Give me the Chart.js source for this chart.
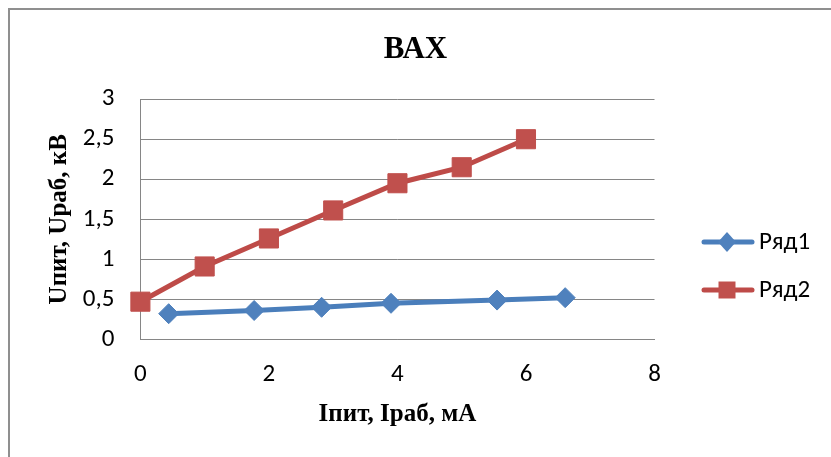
<!DOCTYPE html>
<html>
<head>
<meta charset="utf-8">
<script src="https://cdn.jsdelivr.net/npm/chart.js@4.4.0/dist/chart.umd.min.js"></script>
<style>
  body { margin: 0; background: #fff; }
  #wrap { width: 831px; height: 457px; }
</style>
</head>
<body>
<div id="wrap"><canvas id="chart" width="831" height="457"></canvas></div>
<script>
// values
const chartTitle = 'ВАХ';
const xTitle = 'Iпит, Iраб, мА';
const yTitle = 'Uпит, Uраб, кВ';
const seriesNames = ['Ряд1', 'Ряд2'];

const ryad1X = [0.44, 1.77, 2.82, 3.9, 5.55, 6.61];
const ryad1Y = [0.32, 0.36, 0.40, 0.45, 0.49, 0.52];

const ryad2X = [0, 1, 2, 3, 4, 5, 6];
const ryad2Y = [0.47, 0.91, 1.26, 1.61, 1.95, 2.15, 2.5];

const xTicks = [0, 2, 4, 6, 8];
const yTicks = [0, 0.5, 1, 1.5, 2, 2.5, 3];

const blue = '#4A7EBB';
const red = '#BE4B48';
const gridGray = '#868686';
const tickFont = { family: "Carlito, 'Liberation Sans', sans-serif", size: 25 };
const serifBold = { family: "'Liberation Serif', 'Times New Roman', serif", weight: 'bold' };

function toPoints(xs, ys) {
  return xs.map((x, i) => ({ x: x, y: ys[i] }));
}

// outer frame like the office chart box
const framePlugin = {
  id: 'frame',
  beforeDraw(chart) {
    const ctx = chart.ctx;
    ctx.save();
    ctx.fillStyle = '#fff';
    ctx.fillRect(0, 0, chart.width, chart.height);
    ctx.strokeStyle = '#8f8f8f';
    ctx.lineWidth = 2;
    ctx.strokeRect(9, 9, 900, 600);
    ctx.restore();
  }
};

// legend on the right: line with marker, then the name
const sideLegend = {
  id: 'sideLegend',
  afterDraw(chart) {
    const ctx = chart.ctx;
    const rows = [242, 290];
    chart.data.datasets.forEach((ds, i) => {
      const y = rows[i];
      ctx.save();
      ctx.strokeStyle = ds.borderColor;
      ctx.lineWidth = ds.borderWidth;
      ctx.lineCap = 'round';
      ctx.beginPath();
      ctx.moveTo(704, y);
      ctx.lineTo(752, y);
      ctx.stroke();
      ctx.fillStyle = ds.pointBackgroundColor;
      ctx.beginPath();
      if (ds.pointStyle === 'rect') {
        ctx.rect(727 - 8.5, y - 8.5, 17, 17);
      } else {
        ctx.moveTo(727, y - 10);
        ctx.lineTo(736, y);
        ctx.lineTo(727, y + 10);
        ctx.lineTo(718, y);
        ctx.closePath();
      }
      ctx.fill();
      ctx.fillStyle = '#000';
      ctx.font = `${tickFont.size}px ${tickFont.family}`;
      ctx.textBaseline = 'middle';
      ctx.textAlign = 'left';
      ctx.fillText(ds.label, 759, y + 1);
      ctx.restore();
    });
  }
};

const ctx = document.getElementById('chart').getContext('2d');

new Chart(ctx, {
  type: 'line',
  data: {
    datasets: [{
      label: seriesNames[0],
      data: toPoints(ryad1X, ryad1Y),
      borderColor: blue,
      borderWidth: 5,
      pointStyle: 'rectRot',
      pointRadius: 10,
      pointBackgroundColor: '#4F81BD',
      pointBorderColor: '#4F81BD',
      pointBorderWidth: 1,
      tension: 0,
      clip: false
    }, {
      label: seriesNames[1],
      data: toPoints(ryad2X, ryad2Y),
      borderColor: red,
      borderWidth: 5,
      pointStyle: 'rect',
      pointRadius: 13.5,
      pointBackgroundColor: '#C0504D',
      pointBorderColor: '#C0504D',
      pointBorderWidth: 1,
      tension: 0,
      clip: false
    }]
  },
  options: {
    responsive: false,
    animation: false,
    layout: { padding: 0 },
    plugins: {
      legend: { display: false },
      tooltip: { enabled: false },
      title: {
        display: true,
        text: chartTitle,
        color: '#000',
        font: { ...serifBold, size: 31 },
        padding: { top: 31, bottom: 31 }
      }
    },
    scales: {
      x: {
        type: 'linear',
        min: 0,
        max: 8,
        afterBuildTicks(scale) {
          scale.ticks = xTicks.map(v => ({ value: v }));
        },
        afterFit(scale) {
          scale.height = 117.7;
          scale.paddingRight = 176.5;
        },
        grid: { display: false, drawTicks: false },
        border: { color: gridGray, width: 1 },
        ticks: { color: '#000', font: tickFont, padding: 20 },
        title: {
          display: true,
          text: xTitle,
          color: '#000',
          font: { ...serifBold, size: 25 },
          padding: { top: 0, bottom: 27 }
        }
      },
      y: {
        min: 0,
        max: 3,
        afterBuildTicks(scale) {
          scale.ticks = yTicks.map(v => ({ value: v }));
        },
        afterFit(scale) {
          scale.width = 140.4;
        },
        grid: { color: gridGray, lineWidth: 1, drawTicks: false },
        border: { color: gridGray, width: 1 },
        ticks: {
          color: '#000',
          font: tickFont,
          padding: 26,
          callback: v => String(v).replace('.', ',')
        },
        title: {
          display: true,
          text: yTitle,
          color: '#000',
          font: { ...serifBold, size: 25 },
          padding: { top: 45, bottom: 0 }
        }
      }
    }
  },
  plugins: [framePlugin, sideLegend]
});
</script>
</body>
</html>
